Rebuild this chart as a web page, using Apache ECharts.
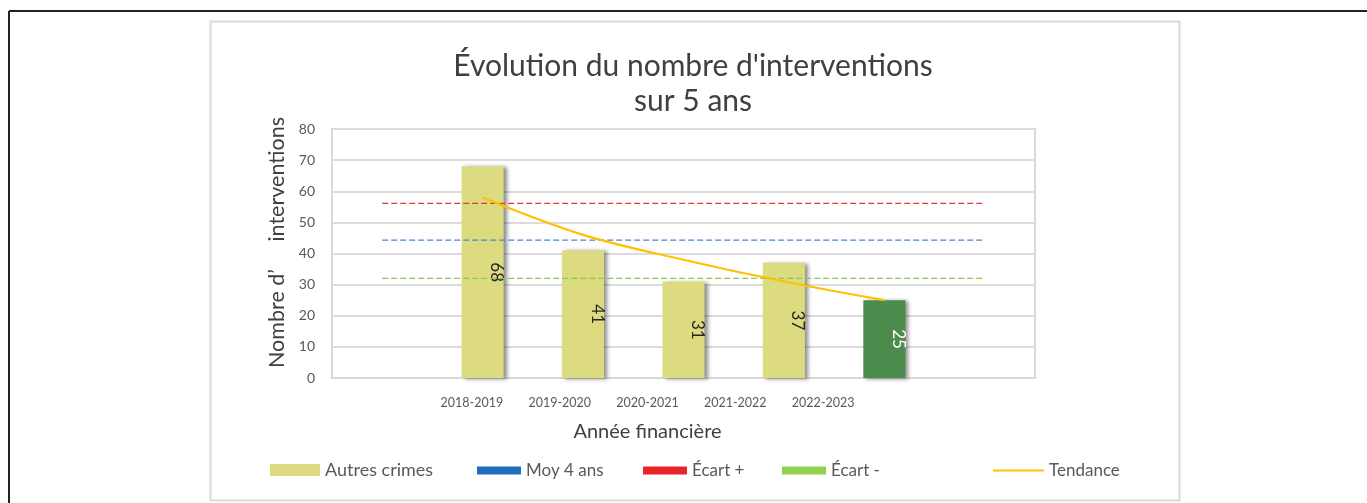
<!DOCTYPE html>
<html><head><meta charset="utf-8">
<script src="https://cdn.jsdelivr.net/npm/echarts@6/dist/echarts.min.js"></script>
<style>html,body{margin:0;padding:0;background:#fff;} #chart{width:1367px;height:503px;}</style>
</head><body><div id="chart"></div>
<script>
// ---- data ----
const CATEGORIES = ['', '2018-2019', '2019-2020', '2020-2021', '2021-2022', '2022-2023', ''];
const TICK_LABELS = ['2018-2019', '2019-2020', '2020-2021', '2021-2022', '2022-2023'];
const AUTRES_CRIMES = [null, 68, 41, 31, 37, 25, null];
const MOY_4_ANS = [44.3, 44.3, 44.3, 44.3, 44.3, 44.3, 44.3];
const ECART_PLUS = [56.1, 56.1, 56.1, 56.1, 56.1, 56.1, 56.1];
const ECART_MOINS = [32.0, 32.0, 32.0, 32.0, 32.0, 32.0, 32.0];
const TENDANCE = [null, 58, 46, 38, 31, 25, null];
const Y_MIN = 0, Y_MAX = 80, Y_STEP = 10;
const TITLE = "Évolution du nombre d'interventions\nsur 5 ans";
const Y_NAME = 'Nombre d’     interventions';
const X_NAME = 'Année financière';
const NAMES = ['Autres crimes', 'Moy 4 ans', 'Écart +', 'Écart -', 'Tendance'];

// ---- styles ----
const FONT = 'Lato, "Open Sans", sans-serif';
const C_BAR = '#dcdb80', C_BAR_LAST = '#4b8b4b';
const C_BLUE = '#1f6fbf', C_RED = '#e8262a', C_GREEN = '#92d050', C_TREND = '#ffc000';
const lastIdx = AUTRES_CRIMES.reduce((a, v, i) => (v != null ? i : a), -1);

const chart = echarts.init(document.getElementById('chart'), null, {renderer: 'canvas'});

function legendAt(name, left, top, w, h, icon, fs) {
  return {
    data: [{name: name, icon: icon}], left: left, top: top, padding: 0, itemWidth: w, itemHeight: h, itemGap: 0,
    itemStyle: {borderWidth: 0}, selectedMode: false,
    textStyle: {fontFamily: FONT, fontSize: fs || 17, color: '#595959'}
  };
}

const option = {
  backgroundColor: '#fff',
  animation: false,
  title: {
    text: TITLE, left: 693, top: 49, textAlign: 'center', padding: 0,
    textStyle: {fontFamily: FONT, fontSize: 30, fontWeight: 'normal', color: '#404040', lineHeight: 35}
  },
  graphic: [
    {type: 'line', shape: {x1: 9, y1: 11, x2: 1367, y2: 11}, style: {stroke: '#222', lineWidth: 2}, silent: true},
    {type: 'line', shape: {x1: 9, y1: 11, x2: 9, y2: 503}, style: {stroke: '#222', lineWidth: 2}, silent: true},
    {type: 'rect', shape: {x: 210.5, y: 21.5, width: 969, height: 479}, style: {fill: 'none', stroke: '#d9d9d9', lineWidth: 2}, silent: true, z: -1}
  ],
  legend: [
    legendAt(NAMES[0], 270, 461, 50, 12, 'rect', 18),
    legendAt(NAMES[1], 477, 462, 44, 8, 'rect'),
    legendAt(NAMES[2], 643, 462, 44, 8, 'rect'),
    legendAt(NAMES[3], 782, 462, 44, 8, 'rect'),
    legendAt(NAMES[4], 993, 462, 51, 2, 'rect')
  ],
  grid: [
    {left: 332, right: 332, top: 129, bottom: 125, show: true, borderColor: '#d9d9d9', borderWidth: 2, backgroundColor: 'transparent'},
    {left: 428, width: 439, top: 129, bottom: 125, show: false}
  ],
  xAxis: [
    {type: 'category', data: CATEGORIES, gridIndex: 0, boundaryGap: true,
     axisLine: {lineStyle: {color: '#d9d9d9', width: 2}}, axisTick: {show: false}, axisLabel: {show: false}},
    {type: 'category', data: TICK_LABELS, gridIndex: 1, boundaryGap: true,
     axisLine: {show: false}, axisTick: {show: false},
     axisLabel: {fontFamily: FONT, fontSize: 12.5, color: '#595959', margin: 18},
     name: X_NAME, nameLocation: 'middle', nameGap: 44,
     nameTextStyle: {fontFamily: FONT, fontSize: 20, color: '#404040'}}
  ],
  yAxis: [
    {type: 'value', gridIndex: 0, min: Y_MIN, max: Y_MAX, interval: Y_STEP,
     axisLine: {show: false}, axisTick: {show: false},
     axisLabel: {fontFamily: FONT, fontSize: 14, color: '#595959', margin: 17},
     splitLine: {lineStyle: {color: '#dcdcdc', width: 2}},
     name: Y_NAME, nameLocation: 'middle', nameGap: 33,
     nameTextStyle: {fontFamily: FONT, fontSize: 21.5, color: '#404040', padding: [0, 0, 0, 22]}},
    {type: 'value', gridIndex: 1, min: 0, max: 1, show: false}
  ],
  series: [
    {name: NAMES[0], type: 'bar', xAxisIndex: 0, yAxisIndex: 0, barWidth: 42, z: 2,
     data: AUTRES_CRIMES.map((v, i) => i === lastIdx ? {value: v, itemStyle: {color: C_BAR_LAST}, label: {color: '#fff'}} : v),
     itemStyle: {color: C_BAR, shadowColor: 'rgba(0,0,0,0.45)', shadowBlur: 4, shadowOffsetX: 3, shadowOffsetY: 1},
     label: {show: true, position: 'inside', rotate: -90, offset: [0, -14],
             fontFamily: FONT, fontSize: 17, color: '#262626'}},
    {name: NAMES[1], type: 'line', data: MOY_4_ANS, symbol: 'none', z: 3,
     itemStyle: {color: C_BLUE}, lineStyle: {color: '#4a86d0', width: 1.3, type: [6, 3]}},
    {name: NAMES[2], type: 'line', data: ECART_PLUS, symbol: 'none', z: 3,
     itemStyle: {color: C_RED}, lineStyle: {color: '#e0383a', width: 1.3, type: [6, 3]}},
    {name: NAMES[3], type: 'line', data: ECART_MOINS, symbol: 'none', z: 3,
     itemStyle: {color: C_GREEN}, lineStyle: {color: '#8ccc48', width: 1.3, type: [6, 3]}},
    {name: NAMES[4], type: 'line', data: TENDANCE, symbol: 'none', smooth: 0.35, z: 4,
     itemStyle: {color: C_TREND}, lineStyle: {color: C_TREND, width: 2.2}}
  ]
};
chart.setOption(option);
</script>
</body></html>
